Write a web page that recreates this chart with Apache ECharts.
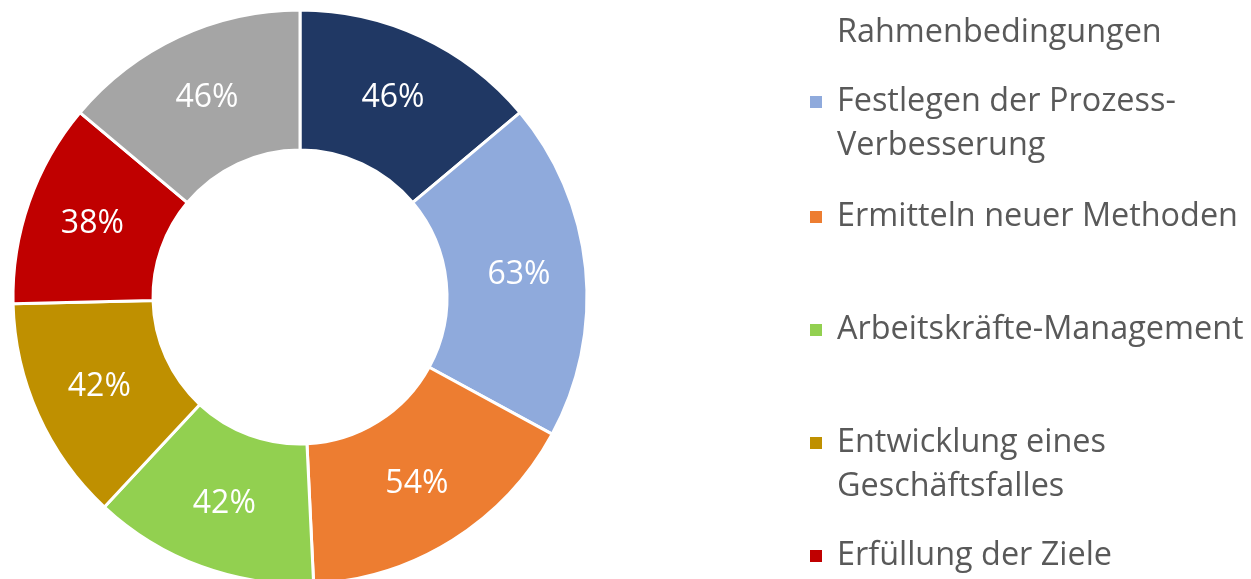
<!DOCTYPE html>
<html>
<head>
<meta charset="utf-8">
<script src="https://cdn.jsdelivr.net/npm/echarts@6/dist/echarts.min.js"></script>
<style>
  html, body { margin: 0; padding: 0; background: #ffffff; }
  #chart { width: 1251px; height: 579px; }
</style>
</head>
<body>
<div id="chart"></div>
<script>
// Data
const categories = [
  'Festlegen der\nRahmenbedingungen',
  'Festlegen der Prozess-\nVerbesserung',
  'Ermitteln neuer Methoden',
  'Arbeitskräfte-Management',
  'Entwicklung eines\nGeschäftsfalles',
  'Erfüllung der Ziele',
  'Sonstiges'
];
const values = [46, 63, 54, 42, 42, 38, 46];
const colors = ['#203864', '#8FAADC', '#ED7D31', '#92D050', '#BF9000', '#C00000', '#A5A5A5'];

// Layout of the (cropped) legend: icon centre y for each visible entry
const legendCenters = [33, 102, 217, 330, 443, 556];

const FONT = 'Open Sans';
const LINE_H = 44;

const legends = legendCenters.map((cy, i) => {
  const name = categories[i];
  const cropped = i === 0; // first entry: only its last line is in view, marker out of view
  const multi = !cropped && name.indexOf('\n') >= 0;
  const blockH = multi ? LINE_H * 3 : LINE_H;
  return {
    data: [name],
    left: 810,
    top: cy - blockH / 2,
    padding: 0,
    orient: 'vertical',
    itemWidth: 12,
    itemHeight: 12,
    icon: cropped ? 'none' : 'rect',
    selectedMode: false,
    itemStyle: { borderWidth: 0 },
    formatter: (n) => cropped ? n.split('\n').pop() : (n.indexOf('\n') >= 0 ? '\n' + n : n),
    textStyle: {
      fontFamily: FONT,
      fontSize: 32.4,
      color: '#595959',
      lineHeight: LINE_H,
      padding: [0, 0, 0, 10]
    }
  };
});

const chart = echarts.init(document.getElementById('chart'), null, { renderer: 'canvas' });
chart.setOption({
  animation: false,
  color: colors,
  legend: legends,
  series: [{
    type: 'pie',
    center: [300, 297],
    radius: [147, 287],
    startAngle: 90,
    clockwise: true,
    avoidLabelOverlap: false,
    itemStyle: { borderColor: '#ffffff', borderWidth: 3 },
    label: {
      show: true,
      position: 'inside',
      formatter: '{c}%',
      color: '#ffffff',
      fontFamily: FONT,
      fontSize: 32
    },
    labelLine: { show: false },
    emphasis: { disabled: true },
    data: categories.map((n, i) => ({ name: n, value: values[i] }))
  }]
});
</script>
</body>
</html>
